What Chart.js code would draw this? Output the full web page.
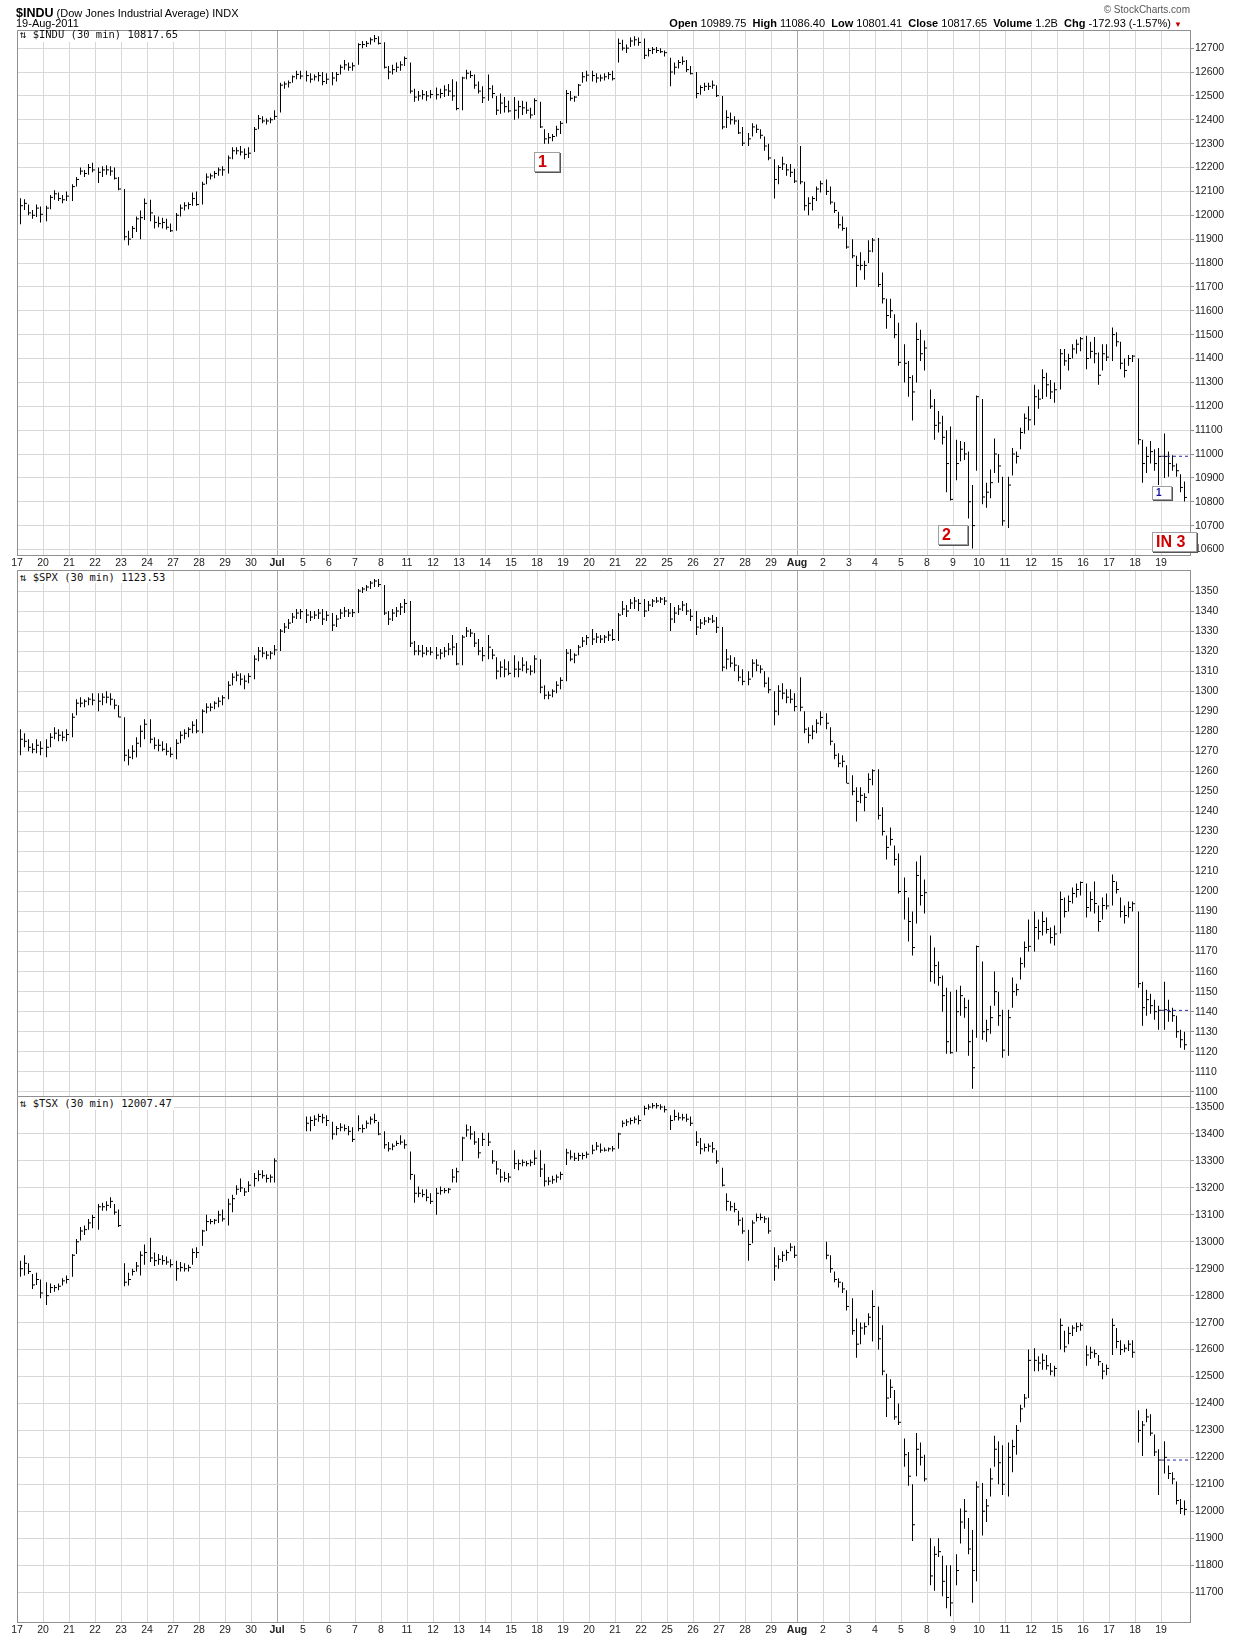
<!DOCTYPE html>
<html><head><meta charset="utf-8">
<script src="https://cdn.jsdelivr.net/npm/chart.js@4.4.0/dist/chart.umd.min.js"></script>
<style>
html,body{margin:0;padding:0;background:#fff;}
body{width:1240px;height:1638px;position:relative;overflow:hidden;font-family:'Liberation Sans',Arial,sans-serif;color:#000;}
canvas{position:absolute;left:0;}
.t{position:absolute;white-space:nowrap;}
.ttl{font-family:'DejaVu Sans Mono',monospace;font-size:10.5px;background:#fff;padding:0 2px;color:#111;overflow:visible;}
.ttl span{position:relative;}
.box{position:absolute;box-sizing:border-box;background:#fff;border:1px solid #a0a0a0;box-shadow:1px 1px 0 #555;font-weight:bold;white-space:nowrap;}
.red{color:#d00000;font-size:16px;line-height:17px;padding-left:3px;}
.blue{color:#1010a0;font-size:10px;line-height:12px;padding-left:3px;}
</style></head><body>
<canvas id="c1" width="1240" height="580" style="top:0px;width:1240px;height:580px"></canvas>
<canvas id="c2" width="1240" height="550" style="top:560px;width:1240px;height:550px"></canvas>
<canvas id="c3" width="1240" height="558" style="top:1080px;width:1240px;height:558px"></canvas>

<div class="t" style="left:16px;top:6px;font-size:11px;"><b style="font-size:12.5px">$INDU</b> (Dow Jones Industrial Average) INDX</div>
<div class="t" style="left:16px;top:17px;font-size:11px;">19-Aug-2011</div>
<div class="t" style="right:50px;top:4px;font-size:10px;color:#555;">© StockCharts.com</div>
<div class="t" style="right:58px;top:17px;font-size:11px;"><b>Open</b> 10989.75 &nbsp;<b>High</b> 11086.40 &nbsp;<b>Low</b> 10801.41 &nbsp;<b>Close</b> 10817.65 &nbsp;<b>Volume</b> 1.2B &nbsp;<b>Chg</b> -172.93 (-1.57%) <span style="color:#c00000;font-size:8px">▼</span></div>

<div class="t ttl" style="left:18px;top:31px;height:11px;line-height:11px;"><span style="top:-2px">⇅ $INDU (30 min) 10817.65</span></div>
<div class="t ttl" style="left:18px;top:571px;height:12px;line-height:12px;"><span>⇅ $SPX (30 min) 1123.53</span></div>
<div class="t ttl" style="left:18px;top:1097px;height:13px;line-height:13px;"><span>⇅ $TSX (30 min) 12007.47</span></div>

<div class="box red" style="left:534px;top:152px;width:26px;height:20px;">1</div>
<div class="box red" style="left:938px;top:525px;width:30px;height:20px;">2</div>
<div class="box blue" style="left:1152px;top:486px;width:20px;height:14px;">1</div>
<div class="box red" style="left:1152px;top:532px;width:45px;height:20px;">IN 3</div>

<script>
// ---- x-axis day labels (one per trading day) ----
const days = ['17','20','21','22','23','24','27','28','29','30','Jul','5','6','7','8','11','12','13','14','15',
  '18','19','20','21','22','25','26','27','28','29','Aug','2','3','4','5','8','9','10','11','12','15','16','17','18','19'];

// ---- y-axis tick labels ----
const indTicks = [10600,10700,10800,10900,11000,11100,11200,11300,11400,11500,11600,11700,11800,11900,12000,12100,12200,12300,12400,12500,12600,12700];
const spxTicks = [1100,1110,1120,1130,1140,1150,1160,1170,1180,1190,1200,1210,1220,1230,1240,1250,1260,1270,1280,1290,1300,1310,1320,1330,1340,1350];
const tsxTicks = [11700,11800,11900,12000,12100,12200,12300,12400,12500,12600,12700,12800,12900,13000,13100,13200,13300,13400,13500];

// ---- previous-day close reference lines ----
const indPrevClose = 10990.58;
const spxPrevClose = 1140.65;
const tsxPrevClose = 12190;

// ---- $INDU bars (6 bars per trading day) ----
const indHigh = [
12071,12067,12045,12022,12045,12037,
12040,12085,12105,12095,12085,12100,
12130,12160,12200,12190,12215,12220,
12200,12205,12210,12205,12200,12160,
12110,11935,11955,11995,12020,12070,
12065,12000,11995,11990,11985,11965,
12010,12045,12055,12055,12095,12100,
12140,12175,12175,12185,12200,12205,
12250,12285,12285,12290,12280,12285,
12370,12420,12415,12405,12410,12440,
12555,12560,12565,12585,12605,12605,
12605,12595,12590,12600,12600,12595,
12600,12600,12630,12650,12640,12640,
12720,12730,12730,12745,12755,12750,
12725,12625,12630,12640,12645,12665,
12640,12530,12520,12525,12520,12525,
12535,12530,12545,12550,12570,12560,
12580,12610,12605,12590,12560,12540,
12590,12545,12500,12510,12495,12480,
12495,12480,12480,12475,12450,12490,
12475,12360,12345,12340,12375,12395,
12525,12520,12500,12550,12600,12605,
12605,12595,12590,12595,12600,12605,
12740,12735,12715,12745,12750,12745,
12740,12700,12705,12705,12700,12690,
12660,12640,12650,12665,12650,12625,
12600,12545,12555,12555,12565,12545,
12500,12440,12430,12415,12400,12370,
12345,12385,12380,12360,12330,12300,
12235,12210,12245,12215,12215,12195,
12290,12140,12075,12080,12120,12145,
12150,12120,12055,12015,11995,11950,
11900,11830,11845,11810,11895,11905,
11905,11760,11650,11650,11585,11550,
11460,11390,11330,11550,11520,11475,
11270,11230,11180,11160,11100,11115,
11060,11055,11050,11010,10870,11245,
11230,10880,10935,11065,11000,10905,
10905,11025,11010,11110,11170,11200,
11290,11270,11355,11340,11310,11300,
11440,11440,11420,11460,11480,11490,
11495,11470,11490,11425,11460,11460,
11530,11510,11470,11400,11415,11415,
11400,11060,11030,11055,11020,11025,
11086,11010,10995,10960,10915,10885];
const indLow = [
11962,12022,12000,11985,11993,11970,
11975,12025,12065,12060,12050,12060,
12060,12120,12170,12160,12170,12180,
12135,12160,12170,12165,12150,12105,
11895,11874,11905,11930,11900,11980,
11975,11945,11950,11945,11940,11930,
11935,11995,12020,12025,12040,12040,
12045,12130,12150,12155,12165,12165,
12175,12235,12255,12250,12235,12240,
12265,12360,12385,12380,12385,12400,
12430,12530,12535,12555,12570,12570,
12560,12555,12565,12560,12545,12550,
12545,12560,12590,12610,12605,12605,
12630,12700,12705,12715,12725,12715,
12615,12570,12590,12600,12605,12625,
12510,12475,12480,12485,12480,12490,
12485,12490,12495,12500,12480,12440,
12440,12570,12575,12530,12510,12470,
12480,12490,12420,12425,12430,12430,
12400,12405,12420,12425,12405,12420,
12365,12300,12300,12310,12330,12340,
12385,12480,12475,12500,12555,12560,
12560,12555,12560,12565,12570,12565,
12640,12690,12680,12705,12710,12710,
12655,12665,12675,12680,12680,12665,
12540,12590,12615,12630,12600,12590,
12490,12505,12520,12525,12530,12495,
12360,12365,12380,12380,12340,12290,
12290,12330,12345,12320,12270,12230,
12070,12130,12190,12165,12160,12135,
12130,12020,12000,12020,12060,12095,
12085,12045,12010,11945,11935,11860,
11820,11700,11770,11730,11800,11845,
11700,11630,11525,11570,11485,11370,
11300,11240,11140,11300,11390,11350,
11190,11060,11090,11040,10840,10805,
10890,10970,10975,10730,10604,10930,
10790,10775,10815,10920,10880,10700,
10690,10910,10960,11020,11085,11100,
11120,11190,11230,11240,11230,11215,
11270,11370,11350,11400,11420,11430,
11355,11400,11380,11290,11350,11390,
11390,11450,11355,11320,11370,11385,
11040,10880,10920,10960,10930,10870,
10900,10905,10930,10905,10840,10801];
const indClose = [
12040,12050,12010,12000,12030,12004,
12030,12075,12090,12070,12065,12080,
12120,12150,12185,12175,12200,12190,
12180,12190,12190,12185,12155,12110,
11910,11900,11945,11985,11990,12050,
12010,11970,11965,11970,11950,11935,
12000,12030,12040,12045,12070,12045,
12130,12160,12165,12175,12190,12190,
12240,12270,12270,12265,12255,12260,
12360,12405,12395,12395,12400,12414,
12545,12550,12555,12580,12590,12583,
12585,12570,12580,12585,12560,12570,
12575,12590,12620,12630,12620,12626,
12715,12715,12720,12735,12740,12720,
12620,12600,12610,12620,12630,12657,
12520,12495,12500,12505,12500,12506,
12505,12510,12525,12520,12500,12447,
12575,12595,12585,12545,12520,12492,
12530,12510,12440,12470,12455,12437,
12440,12455,12450,12440,12420,12480,
12370,12320,12325,12330,12360,12385,
12510,12490,12495,12545,12580,12587,
12585,12575,12575,12580,12590,12572,
12720,12700,12700,12730,12735,12724,
12670,12690,12695,12690,12685,12681,
12600,12620,12640,12645,12610,12593,
12510,12535,12540,12540,12545,12501,
12370,12410,12400,12395,12345,12302,
12320,12370,12360,12335,12290,12240,
12150,12200,12215,12190,12180,12143,
12140,12040,12050,12070,12110,12132,
12100,12055,12020,11960,11945,11867,
11830,11790,11790,11790,11850,11896,
11710,11650,11580,11600,11500,11384,
11380,11320,11260,11480,11420,11444,
11200,11120,11130,11070,10960,10810,
10960,11020,11000,10800,10700,11240,
10820,10840,10880,11000,10950,10720,
10870,11000,10990,11090,11150,11143,
11240,11230,11320,11290,11260,11269,
11420,11390,11400,11440,11460,11483,
11400,11430,11420,11330,11420,11406,
11500,11470,11380,11350,11400,11410,
11060,10960,10990,11010,10960,10990,
10990,10960,10950,10930,10860,10818];

// ---- $SPX bars ----
const spxHigh = [
1281,1279,1276,1274,1276,1275,
1276,1279,1282,1281,1280,1281,
1289,1296,1297,1296,1297,1299,
1299,1299,1300,1299,1296,1293,
1287,1271,1273,1277,1283,1286,
1286,1277,1276,1275,1274,1272,
1276,1280,1281,1282,1285,1286,
1291,1294,1294,1295,1297,1298,
1305,1309,1310,1309,1308,1309,
1318,1322,1322,1320,1320,1323,
1331,1334,1336,1339,1341,1341,
1341,1340,1340,1341,1341,1340,
1339,1338,1341,1342,1341,1341,
1351,1352,1353,1355,1356,1356,
1353,1340,1341,1342,1344,1346,
1345,1325,1323,1323,1322,1322,
1322,1321,1322,1324,1328,1324,
1328,1332,1331,1329,1326,1322,
1328,1321,1317,1315,1316,1315,
1318,1315,1317,1315,1313,1318,
1316,1303,1300,1301,1305,1307,
1321,1321,1319,1323,1327,1328,
1331,1329,1328,1328,1330,1331,
1339,1345,1343,1346,1347,1346,
1346,1345,1346,1347,1347,1347,
1344,1342,1343,1345,1344,1341,
1340,1336,1337,1337,1338,1337,
1332,1321,1318,1317,1313,1311,
1310,1316,1316,1313,1310,1307,
1300,1303,1304,1301,1301,1299,
1307,1290,1282,1283,1286,1290,
1289,1282,1274,1269,1268,1263,
1258,1252,1252,1249,1259,1261,
1261,1242,1228,1232,1223,1219,
1207,1197,1190,1215,1218,1206,
1178,1172,1165,1158,1152,1150,
1151,1153,1147,1146,1131,1173,
1165,1136,1143,1160,1150,1141,
1141,1157,1154,1167,1175,1186,
1190,1186,1190,1187,1182,1183,
1200,1197,1198,1202,1204,1205,
1204,1200,1205,1193,1197,1199,
1208.5,1205,1197,1193,1195,1195,
1190,1155,1151,1149,1146,1143,
1155,1146,1142,1138,1131,1130];
const spxLow = [
1268,1272,1270,1269,1269,1268,
1267,1272,1276,1275,1275,1275,
1277,1288,1292,1292,1293,1293,
1290,1293,1294,1293,1291,1287,
1265,1263,1266,1267,1272,1276,
1274,1271,1270,1270,1268,1267,
1266,1274,1276,1277,1279,1279,
1279,1289,1290,1291,1292,1293,
1296,1303,1305,1303,1301,1304,
1306,1315,1317,1316,1316,1318,
1320,1329,1331,1334,1336,1336,
1334,1335,1336,1336,1333,1335,
1330,1332,1336,1337,1337,1337,
1339,1349,1350,1351,1352,1352,
1338,1333,1335,1337,1338,1339,
1322,1318,1318,1317,1318,1318,
1316,1316,1317,1318,1318,1313,
1313,1327,1327,1322,1318,1315,
1316,1316,1306,1307,1307,1308,
1307,1307,1310,1309,1308,1309,
1299,1296,1296,1297,1299,1301,
1305,1315,1314,1318,1322,1323,
1323,1324,1324,1324,1325,1325,
1325,1338,1337,1341,1341,1340,
1337,1340,1342,1344,1344,1343,
1330,1334,1338,1340,1338,1335,
1328,1331,1333,1334,1334,1329,
1310,1311,1312,1310,1305,1303,
1303,1307,1310,1309,1302,1299,
1283,1288,1296,1294,1294,1290,
1290,1279,1274,1276,1279,1283,
1281,1273,1266,1262,1262,1254,
1248,1235,1244,1240,1249,1253,
1236,1228,1216,1223,1213,1199,
1186,1175,1168,1184,1193,1189,
1155,1154,1153,1140,1119,1119,
1120,1138,1137,1118,1101.5,1127,
1126,1125,1129,1143,1133,1117,
1118,1142,1148,1156,1162,1170,
1170,1176,1178,1179,1174,1173,
1179,1187,1190,1194,1197,1198,
1187,1190,1189,1180,1186,1191,
1193,1199,1187,1184,1187,1190,
1152,1133,1138,1139,1136,1131,
1131,1135,1135,1127,1122,1121];
const spxClose = [
1276,1275,1272,1271,1273,1271.5,
1272,1277,1279,1278,1277,1278.4,
1287,1294,1294,1295,1296,1295.5,
1295,1297,1297,1296,1293,1287.1,
1268,1267,1270,1274,1280,1283.5,
1276,1273,1273,1271,1270,1268.5,
1274,1278,1279,1281,1283,1280.1,
1290,1292,1292,1294,1295,1296.7,
1303,1307,1308,1306,1305,1307.4,
1316,1320,1319,1318,1319,1320.6,
1330,1332,1334,1337,1339,1339.7,
1338,1337,1338,1339,1336,1337.9,
1333,1336,1339,1340,1339,1339.2,
1350,1351,1352,1354,1355,1353.2,
1339,1336,1339,1340,1342,1343.8,
1324,1320,1320,1319,1320,1319.5,
1318,1319,1320,1321,1322,1313.6,
1327,1330,1329,1324,1320,1317.7,
1322,1318,1310,1312,1311,1308.9,
1311,1311,1313,1311,1310,1316.1,
1302,1298,1298,1300,1303,1305.4,
1319,1316,1318,1322,1325,1326.7,
1326,1327,1326,1327,1328,1325.8,
1338,1341,1340,1344,1345,1343.8,
1340,1343,1345,1345,1346,1345,
1336,1339,1341,1343,1340,1337.4,
1332,1334,1335,1336,1335,1331.9,
1312,1316,1314,1313,1307,1304.9,
1306,1314,1313,1311,1304,1300.7,
1290,1300,1299,1297,1296,1292.3,
1292,1281,1278,1280,1284,1286.9,
1284,1275,1268,1264,1265,1254,
1250,1245,1248,1247,1256,1260.3,
1238,1230,1222,1226,1216,1200,
1200,1185,1172,1208,1198,1199.4,
1160,1163,1157,1148,1125,1119.5,
1140,1148,1142,1125,1112,1172.5,
1130,1131,1137,1150,1138,1120.8,
1137,1150,1151,1164,1172,1172.6,
1182,1180,1185,1181,1177,1178.8,
1196,1190,1195,1199,1201,1204.5,
1192,1196,1194,1185,1193,1192.8,
1205,1201,1190,1188,1192,1193.9,
1154,1142,1146,1143,1140,1140.7,
1141,1140,1138,1130,1126,1123.5];

// ---- $TSX bars (null = market closed) ----
const tsxHigh = [
12930,12950,12920,12880,12885,12860,
12850,12845,12840,12845,12865,12875,
12955,13010,13055,13060,13085,13100,
13140,13145,13150,13165,13140,13120,
12920,12885,12900,12925,12965,12990,
13015,12960,12955,12950,12945,12935,
12930,12925,12920,12915,12975,12980,
13045,13100,13085,13085,13115,13120,
13160,13175,13210,13235,13200,13225,
13255,13265,13265,13250,13250,13310,
null,null,null,null,null,null,
13465,13465,13470,13475,13475,13470,
13445,13430,13440,13435,13430,13425,
13470,13435,13450,13465,13475,13445,
13410,13370,13365,13375,13395,13380,
13335,13250,13205,13195,13195,13180,
13200,13205,13200,13200,13270,13275,
13390,13435,13430,13410,13385,13405,
13405,13340,13300,13270,13260,13255,
13340,13305,13305,13300,13305,13340,
13340,13290,13240,13245,13250,13260,
13345,13340,13330,13330,13330,13335,
13360,13370,13365,13350,13350,13355,
13405,13450,13455,13460,13465,13470,
13505,13510,13515,13515,13510,13505,
13470,13490,13480,13475,13475,13465,
13410,13385,13365,13365,13370,13340,
13275,13180,13150,13145,13115,13090,
13045,13080,13105,13105,13095,13090,
12980,12950,12965,12970,12995,12985,
null,null,null,null,null,null,
13000,12950,12890,12865,12850,12820,
12790,12715,12700,12700,12735,12820,
12760,12690,12510,12490,12450,12400,
12270,12220,12100,12290,12255,12210,
11900,11870,11900,11835,11800,11800,
11840,12010,12045,11975,11930,12110,
12105,12045,12160,12280,12260,12245,
12255,12265,12320,12395,12435,12600,
12605,12575,12585,12580,12550,12540,
12715,12670,12685,12690,12700,12700,
12615,12610,12600,12580,12550,12545,
12715,12680,12635,12620,12635,12635,
12375,12335,12380,12360,12285,12230,
12260,12170,12145,12110,12045,12040];
const tsxLow = [
12870,12875,12880,12825,12840,12790,
12765,12810,12815,12820,12838,12845,
12870,12955,13005,13025,13045,13050,
13045,13115,13115,13125,13100,13055,
12835,12838,12875,12890,12875,12915,
12925,12910,12915,12915,12915,12905,
12855,12890,12890,12890,12915,12940,
12985,13040,13065,13065,13070,13075,
13060,13110,13175,13185,13170,13185,
13205,13225,13235,13220,13220,13220,
null,null,null,null,null,null,
13410,13410,13430,13445,13440,13430,
13380,13395,13410,13410,13395,13370,
13410,13405,13420,13435,13440,13395,
13345,13335,13340,13355,13360,13345,
13230,13145,13165,13165,13150,13140,
13100,13175,13180,13180,13220,13220,
13300,13390,13380,13360,13310,13355,
13355,13290,13250,13220,13225,13220,
13270,13265,13280,13280,13280,13285,
13240,13205,13210,13215,13220,13230,
13285,13305,13300,13300,13305,13310,
13325,13340,13330,13335,13335,13335,
13345,13425,13430,13435,13440,13435,
13470,13490,13495,13495,13490,13480,
13415,13450,13450,13450,13445,13430,
13355,13325,13335,13335,13330,13290,
13205,13115,13115,13110,13060,13030,
12930,12995,13075,13080,13070,13030,
12855,12900,12925,12930,12965,12940,
null,null,null,null,null,null,
12935,12885,12850,12830,12810,12745,
12655,12570,12620,12655,12690,12630,
12600,12505,12350,12420,12340,12320,
12165,12095,11890,12130,12170,12110,
11725,11705,11830,11685,11640,11610,
11725,11880,11935,11840,11660,11740,
11910,11960,12055,12165,12100,12060,
12055,12145,12210,12330,12385,12420,
12520,12520,12525,12525,12505,12500,
12600,12590,12620,12650,12665,12670,
12540,12565,12570,12540,12490,12505,
12580,12605,12580,12590,12595,12570,
12255,12205,12330,12280,12205,12060,
12140,12120,12100,12025,11990,11985];
const tsxClose = [
12900,12920,12890,12840,12860,12810,
12800,12830,12830,12835,12855,12860,
12950,13000,13040,13045,13070,13090,
13130,13130,13135,13150,13110,13060,
12850,12860,12890,12910,12950,12960,
12940,12930,12935,12930,12925,12915,
12900,12905,12900,12905,12960,12960,
13040,13075,13075,13080,13100,13085,
13140,13160,13195,13200,13185,13210,
13235,13250,13245,13235,13240,13300,
null,null,null,null,null,null,
13440,13450,13455,13465,13460,13450,
13400,13420,13425,13420,13410,13380,
13420,13420,13440,13455,13450,13400,
13360,13345,13355,13365,13370,13360,
13250,13180,13180,13175,13165,13150,
13180,13190,13190,13195,13240,13260,
13385,13415,13400,13370,13330,13380,
13370,13300,13270,13240,13235,13240,
13290,13290,13295,13290,13295,13310,
13270,13225,13225,13230,13240,13250,
13330,13315,13310,13320,13320,13325,
13340,13355,13340,13340,13345,13345,
13400,13440,13445,13450,13455,13450,
13495,13500,13505,13505,13500,13490,
13450,13465,13460,13460,13455,13440,
13370,13345,13350,13355,13345,13300,
13210,13150,13130,13120,13080,13040,
12990,13070,13090,13090,13085,13040,
12910,12935,12950,12960,12980,12950,
null,null,null,null,null,null,
12950,12900,12860,12850,12825,12760,
12670,12620,12680,12685,12720,12760,
12640,12520,12420,12460,12350,12330,
12210,12130,11950,12230,12200,12120,
11760,11840,11850,11740,11680,11660,
11780,11960,12000,11860,11780,12090,
12000,12020,12120,12230,12180,12100,
12200,12240,12300,12380,12420,12560,
12560,12550,12560,12540,12520,12530,
12690,12610,12660,12680,12685,12690,
12580,12590,12585,12555,12520,12530,
12690,12630,12600,12605,12620,12590,
12300,12320,12350,12290,12220,12190,
12200,12140,12120,12040,12010,12007];

// ---- layout helpers ----
const BARS_PER_DAY = 6;
const DAY_PX = 26;                 // width of one trading day in pixels
const X_MAX = 1173 / DAY_PX;       // plot width expressed in days
const monthIdx = days.map((d, i) => isNaN(Number(d)) ? i : -1).filter(i => i >= 0);

function barX(i) {
  const d = Math.floor(i / BARS_PER_DAY), j = i % BARS_PER_DAY;
  return d + (4 * j + 3.5) / DAY_PX;
}
function barData(hi, lo) {
  const out = [];
  hi.forEach((h, i) => { if (h != null) out.push({ x: barX(i), y: [lo[i], h] }); });
  return out;
}
function closeData(cl) {
  const out = [];
  cl.forEach((c, i) => { if (c != null) out.push({ x: barX(i) + 1.5 / DAY_PX, y: c }); });
  return out;
}

const framePlugin = {
  id: 'frame',
  afterDraw(chart) {
    const { ctx, chartArea: a } = chart;
    ctx.save();
    ctx.strokeStyle = '#909090';
    ctx.lineWidth = 1;
    ctx.beginPath();
    ctx.moveTo(Math.round(a.left) + 0.5, Math.round(a.bottom));
    ctx.lineTo(Math.round(a.left) + 0.5, Math.round(a.top) + 0.5);
    ctx.lineTo(Math.round(a.right), Math.round(a.top) + 0.5);
    ctx.stroke();
    ctx.restore();
  }
};

function panel(id, cfg) {
  return new Chart(document.getElementById(id), {
    type: 'bar',
    data: {
      datasets: [
        { type: 'line', data: [{ x: 44, y: cfg.prev }, { x: X_MAX, y: cfg.prev }],
          borderColor: '#2a2aa0', borderWidth: 1, borderDash: [3, 3], pointRadius: 0, order: 0 },
        { type: 'line', data: closeData(cfg.cl), showLine: false, pointStyle: 'line',
          pointRadius: 1, pointBorderWidth: 1, pointBorderColor: '#000', pointBackgroundColor: '#000', order: 1 },
        { type: 'bar', data: barData(cfg.hi, cfg.lo), backgroundColor: '#000', borderWidth: 0,
          barThickness: 1, inflateAmount: 0, grouped: false, order: 2 }
      ]
    },
    options: {
      responsive: false, animation: false, devicePixelRatio: 1, events: [],
      layout: { padding: cfg.padding },
      plugins: { legend: { display: false }, tooltip: { enabled: false } },
      scales: {
        x: {
          type: 'linear', min: 0, max: X_MAX, offset: false,
          grid: { offset: false, drawTicks: false, lineWidth: 1,
                  color: c => monthIdx.includes(c.index) ? '#a8a8a8' : '#d8d8d8' },
          border: { color: '#909090' },
          afterBuildTicks: s => { s.ticks = days.map((_, i) => ({ value: i })); },
          ticks: {
            display: cfg.showX, autoSkip: false, maxRotation: 0, minRotation: 0, padding: 2, color: '#222',
            font: c => ({ family: 'Liberation Sans', size: 10.5, weight: monthIdx.includes(c.index) ? 'bold' : 'normal' }),
            callback: (v, i) => days[i]
          },
          afterFit: s => { s.height = cfg.xh; }
        },
        y: {
          type: 'linear', position: 'right', min: cfg.min, max: cfg.max,
          afterBuildTicks: s => { s.ticks = cfg.yt.map(v => ({ value: v })); },
          grid: { color: '#d8d8d8', tickLength: 4, tickColor: '#909090' },
          border: { color: '#909090' },
          ticks: { padding: 1, color: '#222', font: { family: 'Liberation Sans', size: 10.5 },
                   callback: v => String(v) },
          afterFit: s => { s.width = 50; }
        }
      }
    },
    plugins: [framePlugin]
  });
}

panel('c1', { hi: indHigh, lo: indLow, cl: indClose, prev: indPrevClose, yt: indTicks,
  min: 10577, max: 12776, showX: true, xh: 25, padding: { left: 17, top: 30, right: 0, bottom: 0 } });
panel('c2', { hi: spxHigh, lo: spxLow, cl: spxClose, prev: spxPrevClose, yt: spxTicks,
  min: 1097.9, max: 1360.5, showX: false, xh: 0, padding: { left: 17, top: 10, right: 0, bottom: 14 } });
panel('c3', { hi: tsxHigh, lo: tsxLow, cl: tsxClose, prev: tsxPrevClose, yt: tsxTicks,
  min: 11589, max: 13541, showX: true, xh: 16, padding: { left: 17, top: 16, right: 0, bottom: 0 } });
</script>
</body></html>
